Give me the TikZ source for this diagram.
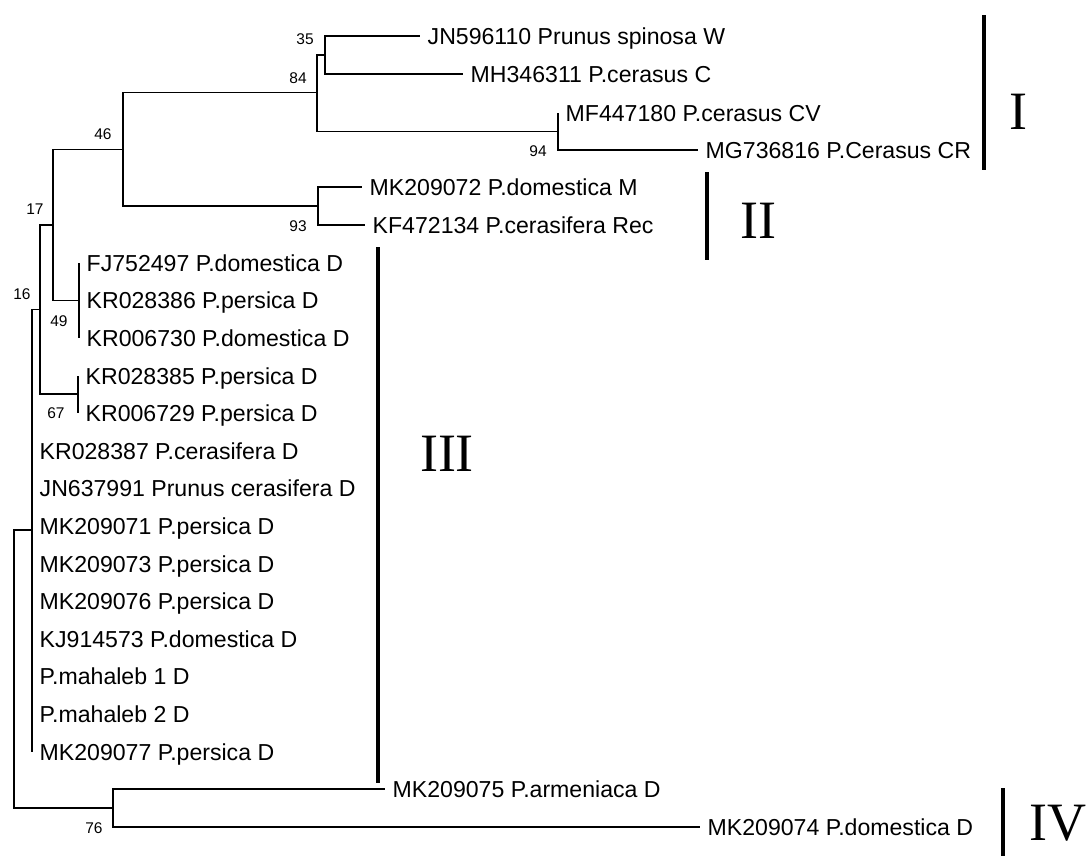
\documentclass[tikz,border=0pt]{standalone}
\usepackage{fontspec}
\setmainfont{Liberation Sans}
\newfontfamily\romfont{Liberation Serif}
\begin{document}
\begin{tikzpicture}[x=1pt,y=-1pt,
  br/.style={line width=1.1pt, line join=miter},
  leaf/.style={anchor=west, inner xsep=7.5pt, inner ysep=0pt, text height=16.5pt, text depth=0pt, font=\fontsize{23.1}{26}\selectfont},
  bs/.style={inner sep=0pt, font=\fontsize{15.5}{17}\selectfont},
  bar/.style={line width=4.6pt},
  roman/.style={inner sep=0pt, text height=35.7pt, text depth=0pt, font=\romfont\fontsize{54}{60}\selectfont}]
\useasboundingbox (0,0) rectangle (1090,855);
% internal nodes
\coordinate (nR) at (14,669);
\coordinate (nP) at (32,530);
\coordinate (n16) at (40,309.5);
\coordinate (n17) at (53,225);
\coordinate (n46) at (123,149.5);
\coordinate (n84) at (317,92.5);
\coordinate (n35) at (325,55);
\coordinate (n94) at (558,131.5);
\coordinate (n93) at (318,206);
\coordinate (n49) at (79,300.5);
\coordinate (n67) at (78,394);
\coordinate (n76) at (113,808);
% leaves
\node[leaf] (JN596110) at (420,36) {JN596110 Prunus spinosa W};
\node[leaf] (MH346311) at (463,74) {MH346311 P.cerasus C};
\node[leaf] (MF447180) at (558,113) {MF447180 P.cerasus CV};
\node[leaf] (MG736816) at (698,150) {MG736816 P.Cerasus CR};
\node[leaf] (MK209072) at (362,187) {MK209072 P.domestica M};
\node[leaf] (KF472134) at (365,225) {KF472134 P.cerasifera Rec};
\node[leaf] (FJ752497) at (79,263) {FJ752497 P.domestica D};
\node[leaf] (KR028386) at (79,300.6) {KR028386 P.persica D};
\node[leaf] (KR006730) at (79,338.2) {KR006730 P.domestica D};
\node[leaf] (KR028385) at (78,375.8) {KR028385 P.persica D};
\node[leaf] (KR006729) at (78,413.4) {KR006729 P.persica D};
\node[leaf] (KR028387) at (32,451) {KR028387 P.cerasifera D};
\node[leaf] (JN637991) at (32,488.6) {JN637991 Prunus cerasifera D};
\node[leaf] (MK209071) at (32,526.2) {MK209071 P.persica D};
\node[leaf] (MK209073) at (32,563.8) {MK209073 P.persica D};
\node[leaf] (MK209076) at (32,601.4) {MK209076 P.persica D};
\node[leaf] (KJ914573) at (32,639) {KJ914573 P.domestica D};
\node[leaf] (mah1) at (32,676.6) {P.mahaleb 1 D};
\node[leaf] (mah2) at (32,714.2) {P.mahaleb 2 D};
\node[leaf] (MK209077) at (32,751.8) {MK209077 P.persica D};
\node[leaf] (MK209075) at (385,789) {MK209075 P.armeniaca D};
\node[leaf] (MK209074) at (700,827) {MK209074 P.domestica D};
% branches
\draw[br] (n35) |- (JN596110.west);
\draw[br] (n35) |- (MH346311.west);
\draw[br] (n84) |- (n35);
\draw[br] (n84) |- (n94);
\draw[br] (n94) |- (MF447180.west);
\draw[br] (n94) |- (MG736816.west);
\draw[br] (n46) |- (n84);
\draw[br] (n46) |- (n93);
\draw[br] (n93) |- (MK209072.west);
\draw[br] (n93) |- (KF472134.west);
\draw[br] (n17) |- (n46);
\draw[br] (n17) |- (n49);
\draw[br] (n49) |- (FJ752497.west);
\draw[br] (n49) |- (KR006730.west);
\draw[br] (n16) |- (n17);
\draw[br] (n16) |- (n67);
\draw[br] (n67) |- (KR028385.west);
\draw[br] (n67) |- (KR006729.west);
\draw[br] (nP) |- (n16);
\draw[br] (nP) |- (MK209077.west);
\draw[br] (nR) |- (nP);
\draw[br] (nR) |- (n76);
\draw[br] (n76) |- (MK209075.west);
\draw[br] (n76) |- (MK209074.west);
% bootstrap values
\node[bs] (b35) at (305,39) {35};
\node[bs] (b84) at (298,78) {84};
\node[bs] (b46) at (103,134) {46};
\node[bs] (b93) at (298,226) {93};
\node[bs] (b17) at (35,209) {17};
\node[bs] (b94) at (538,151) {94};
\node[bs] (b16) at (22,294) {16};
\node[bs] (b49) at (59,321) {49};
\node[bs] (b67) at (56,413) {67};
\node[bs] (b76) at (94,828) {76};
% clade bars
\coordinate (IaT) at (984,15); \coordinate (IaB) at (984,170);
\coordinate (IIaT) at (707,172); \coordinate (IIaB) at (707,260);
\coordinate (IIIaT) at (378,247); \coordinate (IIIaB) at (378,783);
\coordinate (IVaT) at (1003,788); \coordinate (IVaB) at (1003,858);
\draw[bar] (IaT) -- (IaB);
\draw[bar] (IIaT) -- (IIaB);
\draw[bar] (IIIaT) -- (IIIaB);
\draw[bar] (IVaT) -- (IVaB);
\node[roman] (cI) at (1018,112) {I};
\node[roman] (cII) at (758,221) {II};
\node[roman] (cIII) at (447,454) {III};
\node[roman, anchor=west] (cIV) at (1029,823) {IV};
\end{tikzpicture}
\end{document}
